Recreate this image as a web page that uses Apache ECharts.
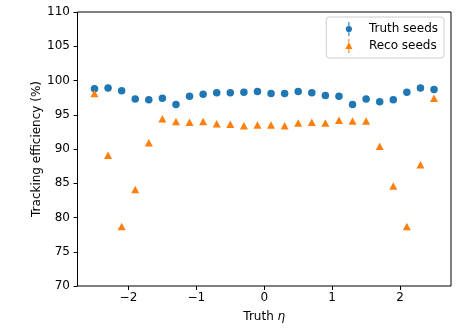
<!DOCTYPE html>
<html>
<head>
<meta charset="utf-8">
<script src="https://cdn.jsdelivr.net/npm/echarts@6/dist/echarts.min.js"></script>
<style>html,body{margin:0;padding:0;background:#fff}#c{width:461px;height:328px}</style>
</head>
<body>
<div id="c"></div>
<script>
const etaBins = [-2.5,-2.3,-2.1,-1.9,-1.7,-1.5,-1.3,-1.1,-0.9,-0.7,-0.5,-0.3,-0.1,0.1,0.3,0.5,0.7,0.9,1.1,1.3,1.5,1.7,1.9,2.1,2.3,2.5];
const truthEff = [98.8,98.9,98.5,97.3,97.2,97.4,96.5,97.7,98.0,98.2,98.2,98.3,98.4,98.1,98.1,98.4,98.2,97.8,97.7,96.5,97.3,96.9,97.2,98.3,98.9,98.7];
const recoEff = [98.1,89.1,78.7,84.1,90.9,94.4,94.0,93.9,94.0,93.7,93.6,93.4,93.5,93.5,93.4,93.8,93.9,93.8,94.2,94.1,94.1,90.4,84.6,78.7,87.7,97.4];
const xTicks = [-2,-1,0,1,2];
const yTicks = [70,75,80,85,90,95,100,105,110];
const seriesNames = ['Truth seeds','Reco seeds'];

const FONT = 'DejaVu Sans';
const fmtMinus = v => (v < 0 ? '\u2212' + Math.abs(v) : String(v));

const truthIcon = 'path://M1,9 A4,4 0 1 1 9,9 A4,4 0 1 1 1,9 Z M4.3,0 H5.7 V5.2 H4.3 Z M4.3,12.8 H5.7 V18 H4.3 Z';
const recoIcon = 'path://M5,4 L9.6,13 L0.4,13 Z M4.3,0 H5.7 V4 H4.3 Z M4.3,13 H5.7 V18 H4.3 Z';

const chart = echarts.init(document.getElementById('c'), null, {renderer: 'canvas'});
chart.setOption({
  animation: false,
  backgroundColor: '#fff',
  textStyle: {fontFamily: FONT},
  grid: {left: 77.5, right: 10, top: 12, bottom: 38.5, show: true, borderColor: '#000', borderWidth: 1, backgroundColor: 'transparent'},
  legend: {
    orient: 'vertical', right: 17, top: 17,
    padding: [5, 6, 5, 19], itemGap: 3, itemWidth: 30, itemHeight: 14,
    borderColor: '#cccccc', borderWidth: 1, borderRadius: 3, backgroundColor: 'rgba(255,255,255,0.8)',
    textStyle: {fontFamily: FONT, fontSize: 12, color: '#000', padding: [0,0,0,0]},
    data: [
      {name: seriesNames[0], icon: truthIcon, itemStyle: {color: '#1f77b4'}},
      {name: seriesNames[1], icon: recoIcon, itemStyle: {color: '#ff7f0e'}}
    ]
  },
  xAxis: {
    type: 'value', min: -2.75, max: 2.75,
    name: '{a|Truth }{b|η}', nameLocation: 'middle', nameGap: 25, nameMoveOverlap: false,
    nameTextStyle: {rich: {a: {fontFamily: FONT, fontSize: 12, color: '#000'}, b: {fontFamily: FONT, fontSize: 12, fontStyle: 'italic', color: '#000'}}},
    axisLine: {show: false, onZero: false},
    axisTick: {show: true, inside: false, length: 4, lineStyle: {color: '#000'}, customValues: xTicks},
    axisLabel: {show: true, margin: 6, fontFamily: FONT, fontSize: 12, color: '#000', customValues: xTicks, formatter: fmtMinus},
    splitLine: {show: false}
  },
  yAxis: {
    type: 'value', min: 70, max: 110,
    name: 'Tracking efficiency (%)', nameLocation: 'middle', nameGap: 35, nameRotate: 90, nameMoveOverlap: false,
    nameTextStyle: {fontFamily: FONT, fontSize: 12, color: '#000'},
    axisLine: {show: false, onZero: false},
    axisTick: {show: true, inside: false, length: 4, lineStyle: {color: '#000'}, customValues: yTicks},
    axisLabel: {show: true, margin: 7.5, fontFamily: FONT, fontSize: 12, color: '#000', customValues: yTicks},
    splitLine: {show: false}
  },
  series: [
    {
      name: seriesNames[0], type: 'scatter', symbol: 'circle', symbolSize: 7.5,
      itemStyle: {color: '#1f77b4', opacity: 1},
      data: etaBins.map((e, i) => [e, truthEff[i]])
    },
    {
      name: seriesNames[1], type: 'scatter', symbol: 'triangle', symbolSize: [8, 7.5],
      itemStyle: {color: '#ff7f0e', opacity: 1},
      data: etaBins.map((e, i) => [e, recoEff[i]])
    }
  ]
});
</script>
</body>
</html>
